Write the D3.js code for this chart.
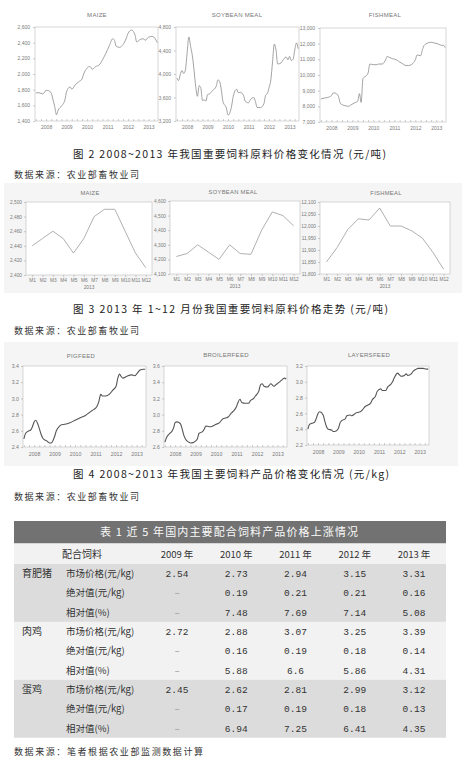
<!DOCTYPE html>
<html>
<head>
<meta charset="utf-8">
<script src="https://cdn.jsdelivr.net/npm/d3@7"></script>
<style>
  body { margin: 0; background: #fff; }
  svg { display: block; }
</style>
</head>
<body>
<script>
// ---- data: 2008-2013 monthly prices (元/吨) ----
const years = [2008, 2009, 2010, 2011, 2012, 2013];

const maizeYearly = [
  ["2008-01",1760],["2008-03",1760],["2008-05",1745],["2008-07",1790],["2008-08",1790],["2008-10",1755],
  ["2008-11",1670],["2008-12",1585],["2009-01",1480],["2009-02",1540],["2009-04",1590],["2009-06",1670],
  ["2009-07",1775],["2009-09",1835],["2009-10",1805],["2009-12",1860],["2010-02",1900],["2010-04",1935],
  ["2010-05",2000],["2010-07",2075],["2010-08",2095],["2010-09",2090],["2010-10",2060],["2010-12",2095],
  ["2011-02",2115],["2011-04",2180],["2011-06",2265],["2011-08",2360],["2011-10",2450],["2011-11",2430],
  ["2011-12",2355],["2012-02",2340],["2012-04",2375],["2012-06",2460],["2012-07",2520],["2012-09",2560],
  ["2012-11",2500],["2012-12",2410],["2013-02",2440],["2013-04",2450],["2013-05",2430],["2013-07",2470],
  ["2013-09",2480],["2013-11",2445],["2013-12",2400]
];

const soybeanYearly = [
  ["2008-01",3930],["2008-02",3890],["2008-03",3990],["2008-04",4060],["2008-05",4010],["2008-06",4070],
  ["2008-07",4360],["2008-08",4630],["2008-09",4470],["2008-10",4320],["2008-11",4070],["2008-12",3790],
  ["2009-01",3620],["2009-02",3800],["2009-03",3770],["2009-04",3550],["2009-05",3560],["2009-06",3540],
  ["2009-07",3650],["2009-08",3660],["2009-10",3720],["2009-12",3790],["2010-01",3900],["2010-02",3870],
  ["2010-03",3740],["2010-04",3530],["2010-06",3420],["2010-07",3300],["2010-09",3450],["2010-10",3620],
  ["2010-12",3740],["2011-01",3680],["2011-02",3690],["2011-04",3640],["2011-05",3540],["2011-07",3510],
  ["2011-08",3560],["2011-10",3600],["2011-11",3530],["2011-12",3430],["2012-02",3430],["2012-04",3500],
  ["2012-05",3640],["2012-06",3670],["2012-07",3770],["2012-08",3900],["2012-09",4210],["2012-10",4510],
  ["2012-11",4410],["2012-12",4170],["2013-02",4190],["2013-03",4230],["2013-05",4290],["2013-06",4240],
  ["2013-07",4300],["2013-08",4230],["2013-09",4250],["2013-10",4410],["2013-11",4530],["2013-12",4430]
];

const fishmealYearly = [
  ["2008-01",8470],["2008-03",8530],["2008-05",8570],["2008-07",8680],["2008-08",8850],["2008-09",8850],
  ["2008-11",8640],["2008-12",8210],["2009-01",8110],["2009-03",8040],["2009-05",8000],["2009-06",8080],
  ["2009-08",8210],["2009-10",8320],["2009-11",8810],["2009-12",8250],["2010-01",9770],["2010-03",9960],
  ["2010-04",10130],["2010-05",10700],["2010-07",10660],["2010-09",10660],["2010-10",10700],["2010-12",10700],
  ["2011-02",10980],["2011-03",11190],["2011-04",11130],["2011-06",11040],["2011-08",10980],["2011-10",10830],
  ["2011-12",10700],["2012-01",10620],["2012-03",10600],["2012-05",10680],["2012-07",10980],["2012-08",11280],
  ["2012-10",11230],["2012-11",11620],["2012-12",11890],["2013-02",12040],["2013-04",12090],["2013-06",12040],
  ["2013-08",11980],["2013-10",11890],["2013-11",11900],["2013-12",11750]
];

// ---- 2013 months ----
const monthLabels = ["M1","M2","M3","M4","M5","M6","M7","M8","M9","M10","M11","M12"];
const maize2013    = [2440, 2450, 2460, 2450, 2430, 2450, 2480, 2490, 2490, 2460, 2430, 2410];
const soybean2013  = [4220, 4240, 4300, 4250, 4200, 4300, 4240, 4235, 4400, 4525, 4500, 4430];
const fishmeal2013 = [11850, 11910, 11985, 12030, 12025, 12075, 12000, 12000, 11980, 11950, 11890, 11820];

// ---- feed products (元/kg) ----
const pigfeed = [
  ["2008-01",2.50],["2008-02",2.57],["2008-04",2.60],["2008-05",2.61],["2008-06",2.65],["2008-07",2.71],
  ["2008-08",2.73],["2008-09",2.69],["2008-10",2.63],["2008-11",2.56],["2008-12",2.51],["2009-01",2.49],
  ["2009-02",2.48],["2009-04",2.45],["2009-05",2.45],["2009-07",2.53],["2009-08",2.60],["2009-10",2.66],
  ["2009-11",2.675],["2010-01",2.68],["2010-04",2.70],["2010-07",2.73],["2010-10",2.76],["2011-01",2.79],
  ["2011-03",2.82],["2011-05",2.85],["2011-07",2.88],["2011-08",2.91],["2011-09",2.97],["2011-10",3.05],
  ["2011-11",3.03],["2012-01",3.03],["2012-03",3.05],["2012-05",3.10],["2012-07",3.15],["2012-08",3.25],
  ["2012-09",3.30],["2012-10",3.27],["2012-11",3.25],["2013-01",3.27],["2013-04",3.29],["2013-06",3.28],
  ["2013-07",3.30],["2013-09",3.35],["2013-11",3.36],["2013-12",3.36]
];

const broilerfeed = [
  ["2008-01",2.66],["2008-02",2.72],["2008-04",2.77],["2008-05",2.79],["2008-06",2.83],["2008-07",2.90],
  ["2008-08",2.91],["2008-10",2.89],["2008-11",2.83],["2008-12",2.75],["2009-01",2.70],["2009-03",2.66],
  ["2009-04",2.65],["2009-06",2.66],["2009-08",2.70],["2009-09",2.77],["2009-11",2.79],["2009-12",2.82],
  ["2010-01",2.86],["2010-03",2.85],["2010-04",2.85],["2010-06",2.87],["2010-07",2.88],["2010-09",2.90],
  ["2010-11",2.95],["2011-01",2.96],["2011-02",2.97],["2011-04",3.02],["2011-05",3.04],["2011-07",3.10],
  ["2011-08",3.16],["2011-09",3.19],["2011-10",3.15],["2011-12",3.14],["2012-02",3.14],["2012-03",3.17],
  ["2012-05",3.20],["2012-06",3.23],["2012-08",3.29],["2012-09",3.37],["2012-10",3.38],["2012-11",3.35],
  ["2013-01",3.34],["2013-02",3.36],["2013-03",3.38],["2013-05",3.35],["2013-06",3.37],["2013-08",3.40],
  ["2013-09",3.42],["2013-11",3.45],["2013-12",3.44]
];

const layersfeed = [
  ["2008-01",2.40],["2008-02",2.46],["2008-04",2.48],["2008-05",2.49],["2008-06",2.54],["2008-07",2.60],
  ["2008-08",2.62],["2008-10",2.58],["2008-11",2.50],["2008-12",2.43],["2009-01",2.40],["2009-03",2.39],
  ["2009-04",2.37],["2009-05",2.37],["2009-07",2.41],["2009-08",2.48],["2009-09",2.51],["2009-11",2.53],
  ["2009-12",2.57],["2010-02",2.58],["2010-03",2.57],["2010-05",2.60],["2010-06",2.61],["2010-08",2.62],
  ["2010-09",2.64],["2010-11",2.69],["2010-12",2.70],["2011-02",2.73],["2011-03",2.77],["2011-05",2.82],
  ["2011-06",2.88],["2011-08",2.91],["2011-09",2.89],["2011-11",2.89],["2011-12",2.93],["2012-02",2.97],
  ["2012-03",3.00],["2012-04",3.05],["2012-06",3.11],["2012-07",3.09],["2012-08",3.07],["2012-10",3.08],
  ["2012-11",3.10],["2012-12",3.08],["2013-02",3.10],["2013-03",3.13],["2013-05",3.16],["2013-06",3.17],
  ["2013-08",3.17],["2013-09",3.17],["2013-11",3.16],["2013-12",3.16]
];

// axis tick values
const maizeTicks = [1400, 1600, 1800, 2000, 2200, 2400, 2600];
const soybeanTicks = [3200, 3600, 4000, 4400, 4800];
const fishmealTicks = [7000, 8000, 9000, 10000, 11000, 12000, 13000];
const maize2013Ticks = [2400, 2420, 2440, 2460, 2480, 2500];
const soybean2013Ticks = [4100, 4200, 4300, 4400, 4500, 4600];
const fishmeal2013Ticks = [11800, 11850, 11900, 11950, 12000, 12050, 12100];
const pigTicks = [2.4, 2.6, 2.8, 3.0, 3.2, 3.4];
const broilerTicks = [2.6, 2.8, 3.0, 3.2, 3.4, 3.6];
const layersTicks = [2.2, 2.4, 2.6, 2.8, 3.0, 3.2];

// ---- table 1 ----
const tableYears = ["2009 年", "2010 年", "2011 年", "2012 年", "2013 年"];
const feedNames = ["育肥猪", "肉鸡", "蛋鸡"];
const metricNames = ["市场价格(元/kg)", "绝对值(元/kg)", "相对值(%)"];
const pigValues = [[2.54, 2.73, 2.94, 3.15, 3.31], [null, 0.19, 0.21, 0.21, 0.16], [null, 7.48, 7.69, 7.14, 5.08]];
const broilerValues = [[2.72, 2.88, 3.07, 3.25, 3.39], [null, 0.16, 0.19, 0.18, 0.14], [null, 5.88, 6.6, 5.86, 4.31]];
const layerValues = [[2.45, 2.62, 2.81, 2.99, 3.12], [null, 0.17, 0.19, 0.18, 0.13], [null, 6.94, 7.25, 6.41, 4.35]];

// ----------------------------------------------------------------
const svg = d3.select("body").append("svg")
  .attr("width", 466)
  .attr("height", 760);

const latin = "'Liberation Sans', Arial, sans-serif";
const cjk = "'Noto Sans CJK SC', 'Noto Sans', sans-serif";
const parseMonth = d3.timeParse("%Y-%m");

// light grey scan background behind figure 3 and figure 4
svg.append("rect").attr("x", 4).attr("y", 183).attr("width", 458).attr("height", 110).attr("fill", "#f5f5f5");
svg.append("rect").attr("x", 4).attr("y", 342).attr("width", 454).attr("height", 124).attr("fill", "#f5f5f5");

function styleAxis(sel, fs) {
  sel.select(".domain").remove();
  sel.attr("font-family", latin).attr("font-size", fs);
  sel.selectAll("line").attr("stroke", "#9a9a9a").attr("stroke-width", 0.5);
  sel.selectAll("text").attr("fill", "#7a7a7a");
}

// frame + y axis + title, shared by both kinds of panel
function frame(c, y) {
  const [x0, y0, x1, y1] = c.box;
  const g = svg.append("g");
  g.append("rect")
    .attr("x", x0).attr("y", y0)
    .attr("width", x1 - x0).attr("height", y1 - y0)
    .attr("fill", "#fff")
    .attr("stroke", "#bdbdbd")
    .attr("stroke-width", 0.6);

  g.append("g")
    .attr("transform", `translate(${x0},0)`)
    .call(d3.axisLeft(y).tickValues(c.ticks).tickFormat(c.fmt).tickSize(2).tickPadding(c.ypad))
    .call(s => styleAxis(s, c.fs));

  g.append("text")
    .attr("x", c.tx).attr("y", c.ty)
    .attr("text-anchor", "middle")
    .attr("font-family", latin)
    .attr("font-size", c.tfs)
    .attr("letter-spacing", 0.3)
    .attr("fill", "#777")
    .text(c.title);
  return g;
}

// 2008-2013 monthly panel
function yearPanel(c) {
  const [x0, y0, x1, y1] = c.box;
  const x = d3.scaleTime()
    .domain([new Date(2007, 11, 16), new Date(2013, 11, 16)])
    .range([x0, x1]);
  const y = d3.scaleLinear().domain(d3.extent(c.ticks)).range([y1, y0]);
  const g = frame(c, y);

  // small inward ticks every quarter
  g.append("g")
    .attr("transform", `translate(0,${y1})`)
    .call(d3.axisBottom(x).ticks(d3.timeMonth.every(3)).tickSize(-2).tickFormat(""))
    .call(s => styleAxis(s, c.fs));

  // year labels in the middle of each year
  g.append("g")
    .attr("transform", `translate(0,${y1})`)
    .call(d3.axisBottom(x)
      .tickValues(years.map(yr => new Date(yr, 6, 1)))
      .tickFormat(d3.timeFormat("%Y"))
      .tickSize(0)
      .tickPadding(c.xpad))
    .call(s => styleAxis(s, c.fs));

  g.append("path")
    .datum(c.data)
    .attr("fill", "none")
    .attr("stroke", c.stroke)
    .attr("stroke-width", c.sw)
    .attr("stroke-linejoin", "round")
    .attr("d", d3.line()
      .x(d => x(parseMonth(d[0])))
      .y(d => y(d[1]))
      .curve(d3.curveMonotoneX));
}

// 2013 M1..M12 panel
function monthPanel(c) {
  const [x0, y0, x1, y1] = c.box;
  const x = d3.scalePoint().domain(monthLabels).range([x0, x1]).padding(0.6);
  const y = d3.scaleLinear().domain(d3.extent(c.ticks)).range([y1, y0]);
  const g = frame(c, y);

  g.append("g")
    .attr("transform", `translate(0,${y1})`)
    .call(d3.axisBottom(x).tickSize(2).tickPadding(2))
    .call(s => styleAxis(s, c.fs));

  g.append("text")
    .attr("x", (x0 + x1) / 2).attr("y", y1 + 14)
    .attr("text-anchor", "middle")
    .attr("font-family", latin)
    .attr("font-size", c.fs)
    .attr("fill", "#7a7a7a")
    .text("2013");

  g.append("path")
    .datum(c.values)
    .attr("fill", "none")
    .attr("stroke", "#9c9c9c")
    .attr("stroke-width", 0.8)
    .attr("d", d3.line()
      .x((d, i) => x(monthLabels[i]))
      .y(d => y(d)));
}

const thousands = d3.format(",");
const oneDec = d3.format(".1f");

// Figure 2
yearPanel({ box: [35, 27, 158, 121], ticks: maizeTicks, fmt: thousands, data: maizeYearly,
  title: "MAIZE", tx: 97, ty: 17, tfs: 6, fs: 5, ypad: 3, xpad: 4.5, stroke: "#8c8c8c", sw: 0.8 });
yearPanel({ box: [176, 27, 299, 121], ticks: soybeanTicks, fmt: thousands, data: soybeanYearly,
  title: "SOYBEAN MEAL", tx: 237, ty: 17, tfs: 6, fs: 5, ypad: 3, xpad: 4.5, stroke: "#8c8c8c", sw: 0.8 });
yearPanel({ box: [320, 28, 446, 122], ticks: fishmealTicks, fmt: thousands, data: fishmealYearly,
  title: "FISHMEAL", tx: 385, ty: 17, tfs: 6, fs: 5, ypad: 3, xpad: 4.5, stroke: "#8c8c8c", sw: 0.8 });

// Figure 3
monthPanel({ box: [26, 202, 152, 275], ticks: maize2013Ticks, fmt: thousands, values: maize2013,
  title: "MAIZE", tx: 90, ty: 194.5, tfs: 5.8, fs: 4.8, ypad: 2 });
monthPanel({ box: [170, 201, 300, 274], ticks: soybean2013Ticks, fmt: thousands, values: soybean2013,
  title: "SOYBEAN MEAL", tx: 233, ty: 194, tfs: 5.8, fs: 4.8, ypad: 2 });
monthPanel({ box: [320, 202, 450, 274], ticks: fishmeal2013Ticks, fmt: thousands, values: fishmeal2013,
  title: "FISHMEAL", tx: 386, ty: 194.5, tfs: 5.8, fs: 4.8, ypad: 2 });

// Figure 4
yearPanel({ box: [23, 366, 146, 447], ticks: pigTicks, fmt: oneDec, data: pigfeed,
  title: "PIGFEED", tx: 81, ty: 358, tfs: 6, fs: 5.2, ypad: 2, xpad: 5, stroke: "#555", sw: 1.1 });
yearPanel({ box: [164, 366, 287, 447], ticks: broilerTicks, fmt: oneDec, data: broilerfeed,
  title: "BROILERFEED", tx: 226, ty: 357, tfs: 6, fs: 5.2, ypad: 2, xpad: 5, stroke: "#555", sw: 1.1 });
yearPanel({ box: [307, 366, 429, 445], ticks: layersTicks, fmt: oneDec, data: layersfeed,
  title: "LAYERSFEED", tx: 369, ty: 357, tfs: 6, fs: 5.2, ypad: 2, xpad: 5, stroke: "#555", sw: 1.1 });

// captions and sources
function caption(txt, x, y, len) {
  svg.append("text")
    .attr("x", x).attr("y", y)
    .attr("font-family", cjk)
    .attr("font-size", 10.5)
    .attr("fill", "#222")
    .attr("textLength", len)
    .attr("lengthAdjust", "spacing")
    .text(txt);
}
function source(txt, y, len) {
  svg.append("text")
    .attr("x", 14).attr("y", y)
    .attr("font-family", cjk)
    .attr("font-size", 9)
    .attr("fill", "#333")
    .attr("textLength", len)
    .attr("lengthAdjust", "spacing")
    .text(txt);
}
caption("图 2  2008~2013 年我国重要饲料原料价格变化情况 (元/吨)", 73, 158, 313);
source("数据来源：农业部畜牧业司", 177.5, 125);
caption("图 3  2013 年 1~12 月份我国重要饲料原料价格走势 (元/吨)", 73, 313, 315);
source("数据来源：农业部畜牧业司", 334, 125);
caption("图 4  2008~2013 年我国主要饲料产品价格变化情况 (元/kg)", 73, 478, 316);
source("数据来源：农业部畜牧业司", 500, 125);
source("数据来源：笔者根据农业部监测数据计算", 754.5, 189);

// ---- Table 1 ----
const tLeft = 14, tRight = 446;
const colX = d3.scalePoint().domain(tableYears).range([177, 414]);
const rowH = 19.3;

svg.append("rect").attr("x", tLeft).attr("y", 521).attr("width", tRight - tLeft).attr("height", 22.5).attr("fill", "#727272");
svg.append("text")
  .attr("x", 100).attr("y", 536)
  .attr("font-family", cjk).attr("font-size", 11)
  .attr("fill", "#fafafa")
  .attr("textLength", 258).attr("lengthAdjust", "spacing")
  .text("表 1   近 5 年国内主要配合饲料产品价格上涨情况");

svg.append("rect").attr("x", tLeft).attr("y", 543.5).attr("width", tRight - tLeft).attr("height", 20.5).attr("fill", "#f2f2f2");
svg.append("text")
  .attr("x", 62).attr("y", 557.5)
  .attr("font-family", cjk).attr("font-size", 10).attr("fill", "#333")
  .text("配合饲料");
svg.selectAll("text.yearhead")
  .data(tableYears)
  .join("text")
  .attr("class", "yearhead")
  .attr("x", d => colX(d)).attr("y", 557.5)
  .attr("text-anchor", "middle")
  .attr("font-family", cjk).attr("font-size", 9.5).attr("fill", "#333")
  .text(d => d);

const groups = [pigValues, broilerValues, layerValues];
const groupFill = ["#dcdcdc", "#f2f2f2", "#dcdcdc"];
const groupTop = 564;
const groupH = rowH * 3;

groups.forEach((vals, gi) => {
  const top = groupTop + gi * groupH;
  svg.append("rect")
    .attr("x", tLeft).attr("y", top)
    .attr("width", tRight - tLeft).attr("height", groupH)
    .attr("fill", groupFill[gi]);

  svg.append("text")
    .attr("x", 22).attr("y", top + rowH / 2 + 3.5)
    .attr("font-family", cjk).attr("font-size", 10).attr("fill", "#333")
    .text(feedNames[gi]);

  vals.forEach((row, ri) => {
    const base = top + rowH * ri + rowH / 2 + 3.5;
    svg.append("text")
      .attr("x", 66).attr("y", base)
      .attr("font-family", cjk).attr("font-size", 9.5).attr("fill", "#333")
      .text(metricNames[ri]);

    svg.append("g")
      .selectAll("text")
      .data(row)
      .join("text")
      .attr("x", (d, i) => colX(tableYears[i]))
      .attr("y", base)
      .attr("text-anchor", "middle")
      .attr("font-family", "'Liberation Mono', 'DejaVu Sans Mono', monospace")
      .attr("font-size", 9.5)
      .attr("fill", d => d === null ? "#999" : "#333")
      .text(d => d === null ? "–" : String(d));
  });
});
</script>
</body>
</html>
